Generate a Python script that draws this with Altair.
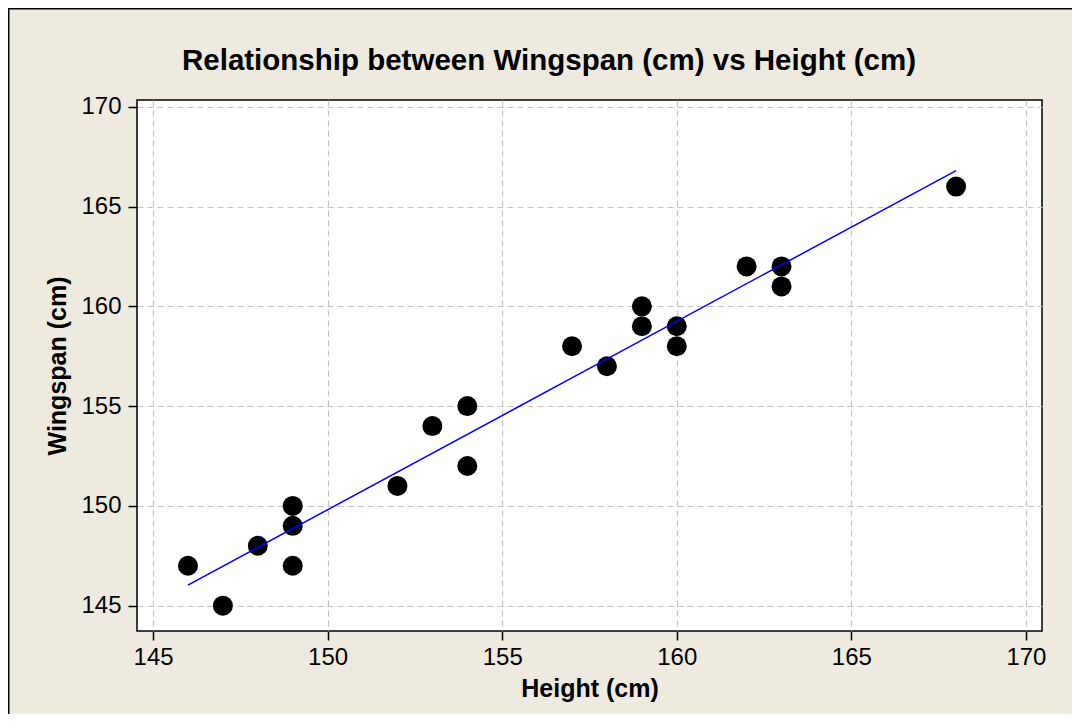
import altair as alt
import pandas as pd

# Data
heights = [146, 147, 148, 149, 149, 149, 152, 153, 154, 154,
           157, 158, 159, 159, 160, 160, 162, 163, 163, 168]
wingspans = [147, 145, 148, 150, 149, 147, 151, 154, 155, 152,
             158, 157, 160, 159, 159, 158, 162, 162, 161, 166]
tick_values = [145, 150, 155, 160, 165, 170]

title_text = "Relationship between Wingspan (cm) vs Height (cm)"
x_title = "Height (cm)"
y_title = "Wingspan (cm)"

df = pd.DataFrame({"Height": heights, "Wingspan": wingspans})

FONT = "Liberation Sans"
W, H = 905, 531
PAD_L, PAD_T, PAD_R, PAD_B = 129, 92, 30, 83

x_enc = alt.X(
    "Height:Q",
    scale=alt.Scale(domain=[144.54, 170.46], nice=False, zero=False),
    axis=alt.Axis(values=tick_values, title=x_title, titleBaseline="alphabetic",
                  titleY=65, titleFontSize=25, titleFontWeight="bold"),
)
y_enc = alt.Y(
    "Wingspan:Q",
    scale=alt.Scale(domain=[143.73, 170.34], nice=False, zero=False),
    axis=alt.Axis(values=tick_values, title=y_title, titleBaseline="alphabetic",
                  titleX=-72, titleFontSize=25, titleFontWeight="bold"),
)

one = pd.DataFrame({"k": [0]})
top_edge = alt.Chart(one).mark_rule(color="black", strokeWidth=3, clip=False).encode(
    x=alt.value(-PAD_L), x2=alt.value(W + PAD_R), y=alt.value(-PAD_T),
)
left_edge = alt.Chart(one).mark_rule(color="black", strokeWidth=3, clip=False).encode(
    x=alt.value(-PAD_L), y=alt.value(-PAD_T), y2=alt.value(H + PAD_B),
)

title = alt.Chart(pd.DataFrame({"t": [title_text]})).mark_text(
    font=FONT, fontSize=29.5, fontWeight="bold", color="black",
    align="center", baseline="alphabetic", clip=False,
).encode(x=alt.value(412), y=alt.value(-30), text="t:N")

points = alt.Chart(df).mark_circle(size=400, color="black", opacity=1).encode(
    x=x_enc, y=y_enc
)

line = alt.Chart(df).transform_regression(
    "Height", "Wingspan"
).mark_line(color="#0000FF", strokeWidth=1.5).encode(
    x=x_enc, y=y_enc
)

chart = alt.layer(top_edge, left_edge, title, points, line).properties(
    width=W, height=H,
    padding={"left": PAD_L, "top": PAD_T, "right": PAD_R, "bottom": PAD_B},
    autosize=alt.AutoSizeParams(type="none"),
    background="#EEEAE0",
).configure_view(
    stroke="black", strokeWidth=1.5, fill="white"
).configure_axis(
    labelFont=FONT, labelFontSize=24, labelColor="black",
    titleFont=FONT, titleColor="black",
    tickColor="black", tickSize=9, tickWidth=1.5,
    domain=False,
    grid=True, gridColor="#C4C4C4", gridDash=[6, 4], gridWidth=1.2,
).configure_axisX(labelPadding=5).configure_axisY(labelPadding=7)

chart.save("out.html", embed_options={"renderer": "svg", "actions": False})
